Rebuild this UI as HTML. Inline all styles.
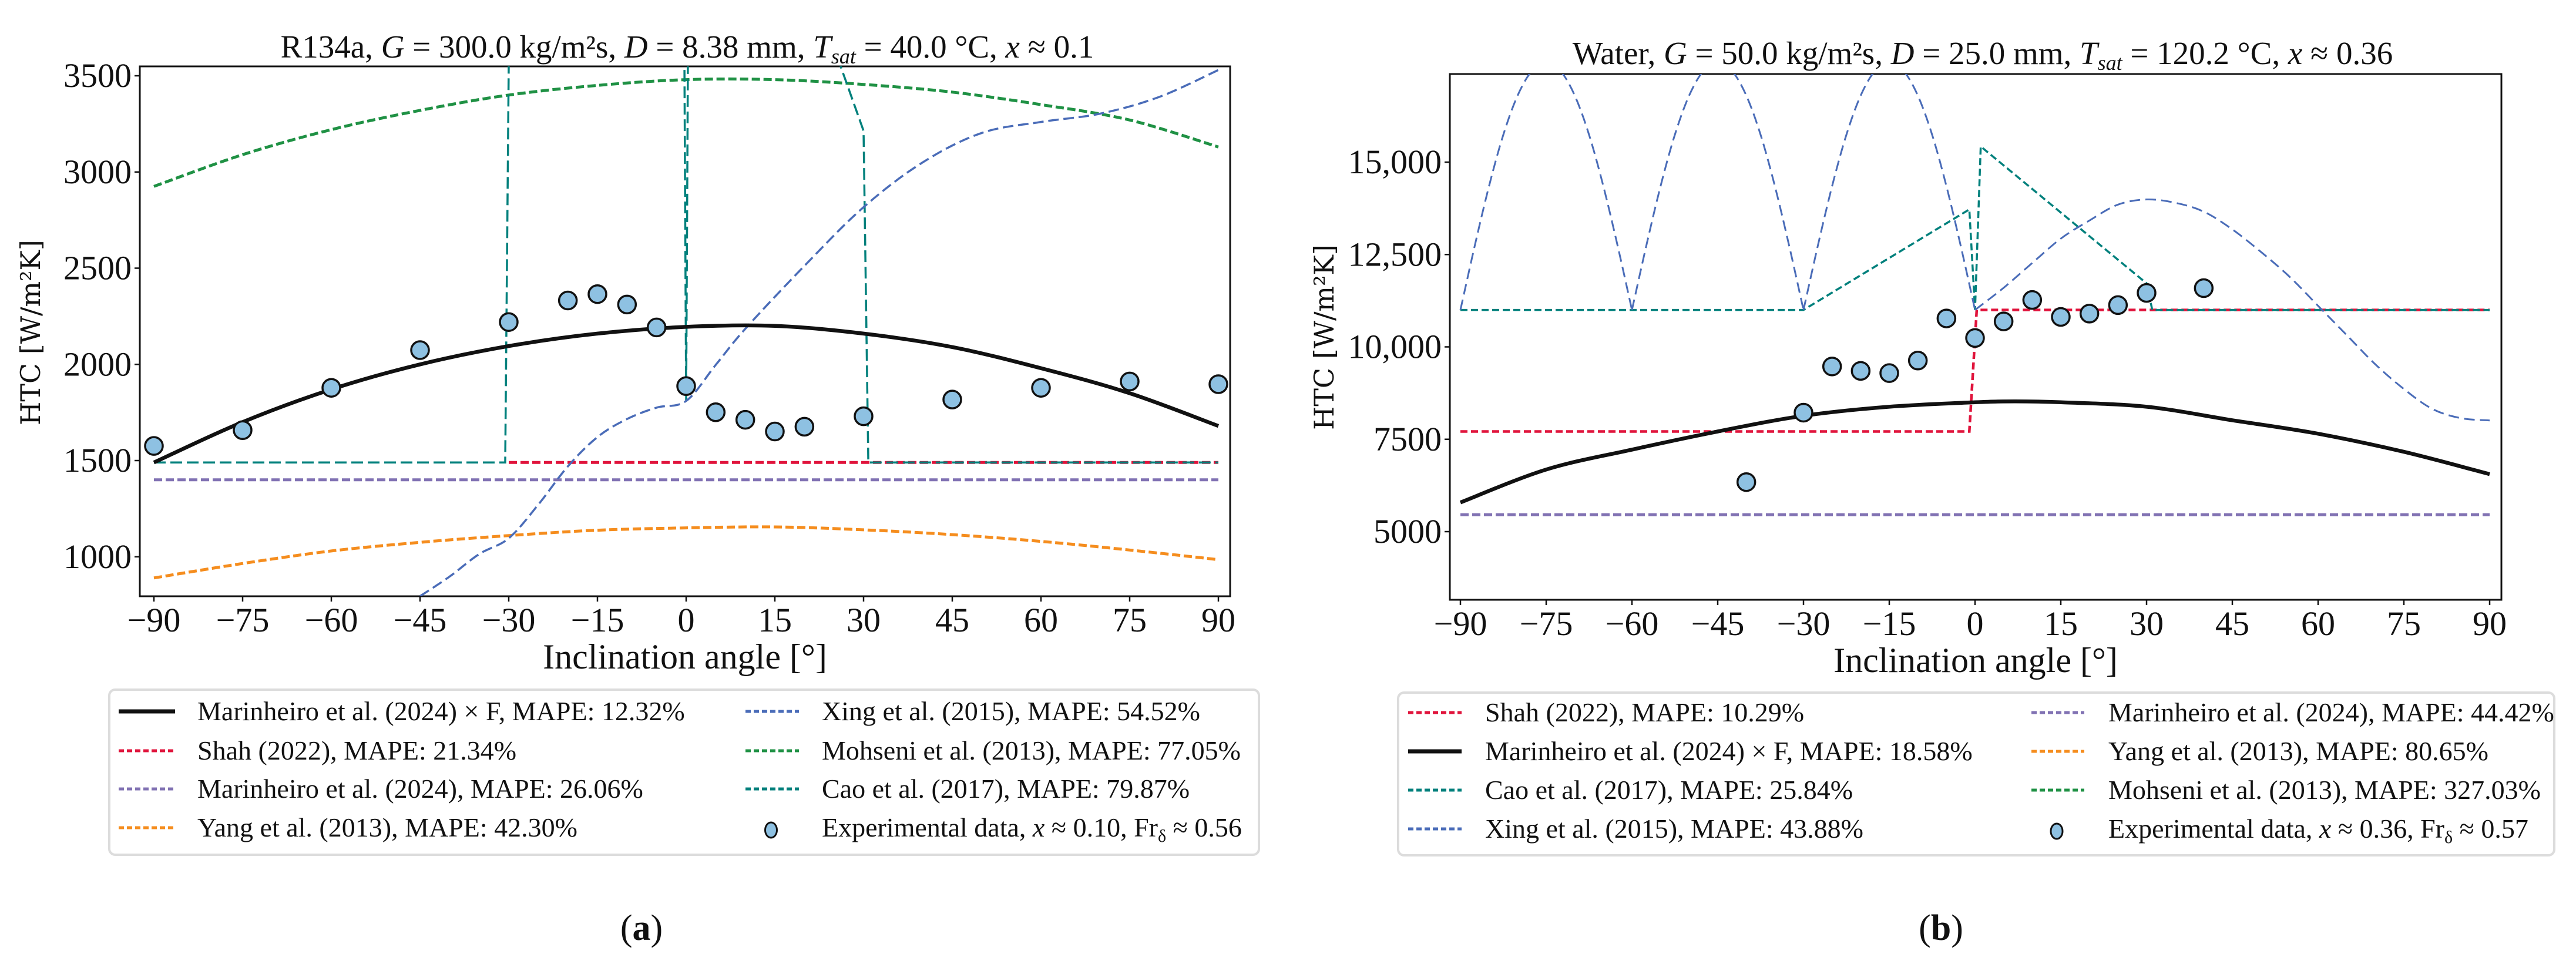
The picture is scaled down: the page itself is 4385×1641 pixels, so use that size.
<!DOCTYPE html>
<html><head><meta charset="utf-8">
<style>
html,body{margin:0;padding:0;background:#fff;}
svg{display:block;}
text,tspan{font-family:"Liberation Serif","Times New Roman",serif;fill:#111;}
</style></head>
<body>
<svg id="fig" xmlns="http://www.w3.org/2000/svg" width="4385" height="1641" viewBox="0 0 4385 1641">
<defs>
<clipPath id="clipA"><rect x="238" y="113" width="1856" height="902"/></clipPath>
<clipPath id="clipB"><rect x="2468" y="126" width="1790" height="895"/></clipPath>
</defs>
<g id="panelA"></g>
<g id="panelB"></g>
</svg>
<script>
// ---------- Panel A data (R134a) ----------
const xTicks = [-90,-75,-60,-45,-30,-15,0,15,30,45,60,75,90];
const aYTicks = [1000,1500,2000,2500,3000,3500];
const aYTickLabels = ["1000","1500","2000","2500","3000","3500"];
const aBlackAngles = [-90,-75,-60,-45,-30,-15,0,15,30,45,60,75,90];
const aBlackValues = [1490,1700,1870,2000,2095,2160,2195,2200,2160,2090,1980,1850,1680];
const aShahAngles = [-30,90];
const aShahValues = [1490,1490];
const aMarAngles = [-90,90];
const aMarValues = [1400,1400];
const aYangAngles = [-90,-75,-60,-45,-30,-15,0,15,30,45,60,75,90];
const aYangValues = [890,965,1030,1075,1110,1138,1150,1155,1140,1115,1080,1035,985];
const aXingAngles = [-45,-40,-35,-30,-25,-20,-15,-10,-5,0,5,10,20,30,40,50,60,70,80,90];
const aXingValues = [795,897,1014,1096,1271,1470,1622,1716,1775,1810,1997,2185,2512,2817,3050,3203,3260,3303,3390,3530];
const aMohAngles = [-90,-75,-60,-45,-30,-15,0,15,30,45,60,75,90];
const aMohValues = [2925,3090,3220,3320,3400,3450,3480,3480,3455,3415,3350,3270,3130];
const aCaoAngles = [-90,-30.6,-30,-15,-0.3,0,0.3,15,26,30,30.8,90];
const aCaoValues = [1490,1490,3560,6000,3600,1810,3600,6000,3560,3214,1490,1490];
const aExpAngles = [-90,-75,-60,-45,-30,-20,-15,-10,-5,0,5,10,15,20,30,45,60,75,90];
const aExpValues = [1576,1658,1878,2074,2220,2332,2365,2311,2192,1887,1751,1712,1651,1676,1730,1817,1878,1911,1897];

// ---------- Panel B data (Water) ----------
const bYTicks = [5000,7500,10000,12500,15000];
const bYTickLabels = ["5000","7500","10,000","12,500","15,000"];
const bBlackAngles = [-90,-75,-60,-45,-30,-15,0,7,15,30,45,60,75,90];
const bBlackValues = [5790,6680,7220,7710,8135,8380,8500,8525,8500,8380,8015,7650,7160,6555];
const bShahAngles = [-90,-1,0.3,90];
const bShahValues = [7710,7710,11000,11000];
const bMarAngles = [-90,90];
const bMarValues = [5460,5460];
const bXingArchAngles = [-90,-87.5,-85,-82.5,-80,-77.5,-75,-72.5,-70,-67.5,-65,-62.5,-60,-57.5,-55,-52.5,-50,-47.5,-45,-42.5,-40,-37.5,-35,-32.5,-30,-27.5,-25,-22.5,-20,-17.5,-15,-12.5,-10,-7.5,-5,-2.5,0];
const bXingArchValues = [11000,12730,14350,15740,16800,17470,17700,17470,16800,15740,14350,12730,11000,12730,14350,15740,16800,17470,17700,17470,16800,15740,14350,12730,11000,12730,14350,15740,16800,17470,17700,17470,16800,15740,14350,12730,11000];
const bXingTailAngles = [0,5,10,15,20,25,30,35,40,45,50,55,60,65,70,75,80,85,90];
const bXingTailValues = [11000,11600,12270,12930,13420,13850,13990,13900,13660,13180,12570,11900,11110,10320,9530,8860,8320,8070,8010];
const bCaoAngles = [-90,-30,-1,0,1,30,31,90];
const bCaoValues = [11000,11000,13720,11000,15425,11720,11000,11000];
const bExpAngles = [-40,-30,-25,-20,-15,-10,-5,0,5,10,15,20,25,30,40];
const bExpValues = [6340,8220,9470,9350,9290,9630,10770,10240,10690,11270,10810,10900,11130,11460,11590];

const NS = "http://www.w3.org/2000/svg";
const FONT = '"Liberation Serif","Times New Roman",serif';
function mk(tag, attrs, parent){
  const e = document.createElementNS(NS, tag);
  for (const k in attrs) e.setAttribute(k, attrs[k]);
  parent.appendChild(e);
  return e;
}
function axA_x(a){ return 262 + (a + 90) * (1812/180); }
function axA_y(v){ return 129 + (3500 - v) * 0.3275; }
function axB_x(a){ return 2486 + (a + 90) * (1752/180); }
function axB_y(v){ return 276 + (15000 - v) * 0.0629; }
function pathD(angles, values, fx, fy, smooth){
  const P = angles.map((a,i)=>[fx(a), fy(values[i])]);
  if (!smooth || P.length < 3){
    return P.map((p,i)=>(i?"L":"M")+p[0].toFixed(1)+","+p[1].toFixed(1)).join("");
  }
  let d = "M"+P[0][0].toFixed(1)+","+P[0][1].toFixed(1);
  for (let i = 0; i < P.length-1; i++){
    const p0 = P[Math.max(0,i-1)], p1 = P[i], p2 = P[i+1], p3 = P[Math.min(P.length-1,i+2)];
    const c1 = [p1[0]+(p2[0]-p0[0])/6, p1[1]+(p2[1]-p0[1])/6];
    const c2 = [p2[0]-(p3[0]-p1[0])/6, p2[1]-(p3[1]-p1[1])/6];
    d += "C"+c1[0].toFixed(1)+","+c1[1].toFixed(1)+" "+c2[0].toFixed(1)+","+c2[1].toFixed(1)+" "+p2[0].toFixed(1)+","+p2[1].toFixed(1);
  }
  return d;
}

function drawSeries(g, clip, angles, values, fx, fy, color, width, dash, name, smooth){
  const p = mk("path", {d: pathD(angles, values, fx, fy, smooth), fill:"none", stroke:color, "stroke-width":width, "clip-path":"url(#"+clip+")"}, g);
  if (dash) p.setAttribute("stroke-dasharray", dash);
  
  
}
function drawPoints(g, angles, values, fx, fy, name){
  for (let i = 0; i < angles.length; i++){
    const c = mk("ellipse", {cx: fx(angles[i]), cy: fy(values[i]), rx:15, ry:15, fill:"#8ec1e2", stroke:"#111", "stroke-width":3.5}, g);
    
    
  }
}

function drawAxes(g, L, T, R, B, fx, fy, yTicks, yLabels, titleHtml, titleX, titleY, ylabX, ylabY){
  const frame = mk("rect", {x:L, y:T, width:R-L, height:B-T, fill:"none", stroke:"#111", "stroke-width":3}, g);
  
  
  for (let i = 0; i < xTicks.length; i++){
    const x = fx(xTicks[i]);
    const t = mk("line", {x1:x, y1:B, x2:x, y2:B+9, stroke:"#111", "stroke-width":2.5}, g);
    
    
    const lb = mk("text", {x:x, y:B+60, "font-size":58, "text-anchor":"middle", "font-family":FONT}, g);
    lb.textContent = xTicks[i] < 0 ? "\u2212" + Math.abs(xTicks[i]) : String(xTicks[i]);
    
    
  }
  for (let i = 0; i < yTicks.length; i++){
    const y = fy(yTicks[i]);
    const t = mk("line", {x1:L-9, y1:y, x2:L, y2:y, stroke:"#111", "stroke-width":2.5}, g);
    
    
    const lb = mk("text", {x:L-14, y:y+19, "font-size":58, "text-anchor":"end", "font-family":FONT}, g);
    lb.textContent = yLabels[i];
    
    
  }
  const xl = mk("text", {x:(L+R)/2, y:B+123, "font-size":60, "text-anchor":"middle", "font-family":FONT}, g);
  xl.textContent = "Inclination angle [°]";
  
  
  const yl = mk("text", {x:ylabX, y:ylabY, "font-size":46, "text-anchor":"middle", transform:"rotate(-90 "+ylabX+" "+ylabY+")", "font-family":"'DejaVu Serif',serif", style:"font-family:'DejaVu Serif',serif"}, g);
  yl.textContent = "HTC [W/m²K]";
  
  
  const tt = mk("text", {x:titleX, y:titleY, "font-size":55, "text-anchor":"middle", "font-family":FONT}, g);
  tt.innerHTML = titleHtml;
  
  
}

function drawLegend(g, bx, by, bw, bh, c1h, c1t, c2h, c2t, rows, entries, capX, capText){
  const box = mk("rect", {x:bx, y:by, width:bw, height:bh, rx:10, fill:"#fff", stroke:"#dcdcdc", "stroke-width":4}, g);
  
  
  for (let i = 0; i < entries.length; i++){
    const e = entries[i];
    const col = i < 4 ? 0 : 1;
    const y = rows[i % 4];
    const hx = col ? c2h : c1h;
    const tx = col ? c2t : c1t;
    if (e.marker){
      const m = mk("ellipse", {cx:(hx[0]+hx[1])/2 - 2, cy:y+4, rx:10, ry:13, fill:"#8ec1e2", stroke:"#111", "stroke-width":3}, g);
      
      
    } else {
      const l = mk("line", {x1:hx[0], y1:y, x2:hx[1], y2:y, stroke:e.color, "stroke-width":e.dash ? 5 : 7}, g);
      if (e.dash) l.setAttribute("stroke-dasharray", "9 5");
      
      
    }
    const t = mk("text", {x:tx, y:y+15, "font-size":46, "font-family":FONT}, g);
    t.innerHTML = e.label;
    
    
  }
  const cap = mk("text", {x:capX, y:1600, "font-size":62, "text-anchor":"middle", "font-family":FONT}, g);
  cap.innerHTML = capText;
  
  
}

const C = {black:"#111111", red:"#e0143c", purple:"#8172b3", orange:"#f58d1e", blue:"#4a6cb8", green:"#1f9144", teal:"#00807c"};

// ----- Panel A -----
const gA = document.getElementById("panelA");
drawAxes(gA, 238, 113, 2094, 1015, axA_x, axA_y, aYTicks, aYTickLabels,
  'R134a, <tspan font-style="italic">G</tspan> = 300.0 kg/m²s, <tspan font-style="italic">D</tspan> = 8.38 mm, <tspan font-style="italic">T</tspan><tspan font-style="italic" font-size="36" dy="10">sat</tspan><tspan dy="-10"> = 40.0 °C, </tspan><tspan font-style="italic">x</tspan> ≈ 0.1',
  1170, 98, 68, 566);
drawSeries(gA, "clipA", aMohAngles, aMohValues, axA_x, axA_y, C.green, 5, "14 6", "mohseni-line", true);
drawSeries(gA, "clipA", aYangAngles, aYangValues, axA_x, axA_y, C.orange, 5, "14 6", "yang-line", true);
drawSeries(gA, "clipA", aMarAngles, aMarValues, axA_x, axA_y, C.purple, 5, "14 6", "marinheiro-line", false);
drawSeries(gA, "clipA", aShahAngles, aShahValues, axA_x, axA_y, C.red, 5, "14 6", "shah-line", false);
drawSeries(gA, "clipA", aCaoAngles, aCaoValues, axA_x, axA_y, C.teal, 3.5, "20 8", "cao-line", false);
drawSeries(gA, "clipA", aXingAngles, aXingValues, axA_x, axA_y, C.blue, 3.5, "18 8", "xing-line", true);
drawSeries(gA, "clipA", aBlackAngles, aBlackValues, axA_x, axA_y, C.black, 6.5, null, "marinheiro-f-line", true);
drawPoints(gA, aExpAngles, aExpValues, axA_x, axA_y, "experimental-point");
drawLegend(gA, 186, 1174, 1957, 281, [202,298], 336, [1269,1360], 1399, [1211,1278,1343,1409], [
  {color:C.black, dash:false, label:"Marinheiro et al. (2024) × F, MAPE: 12.32%"},
  {color:C.red, dash:true, label:"Shah (2022), MAPE: 21.34%"},
  {color:C.purple, dash:true, label:"Marinheiro et al. (2024), MAPE: 26.06%"},
  {color:C.orange, dash:true, label:"Yang et al. (2013), MAPE: 42.30%"},
  {color:C.blue, dash:true, label:"Xing et al. (2015), MAPE: 54.52%"},
  {color:C.green, dash:true, label:"Mohseni et al. (2013), MAPE: 77.05%"},
  {color:C.teal, dash:true, label:"Cao et al. (2017), MAPE: 79.87%"},
  {marker:true, label:'Experimental data, <tspan font-style="italic">x</tspan> ≈ 0.10, Fr<tspan font-size="30" dy="9">δ</tspan><tspan dy="-9"> ≈ 0.56</tspan>'}
], 1092, '(<tspan font-weight="bold">a</tspan>)');

// ----- Panel B -----
const gB = document.getElementById("panelB");
drawAxes(gB, 2468, 126, 4258, 1021, axB_x, axB_y, bYTicks, bYTickLabels,
  'Water, <tspan font-style="italic">G</tspan> = 50.0 kg/m²s, <tspan font-style="italic">D</tspan> = 25.0 mm, <tspan font-style="italic">T</tspan><tspan font-style="italic" font-size="36" dy="10">sat</tspan><tspan dy="-10"> = 120.2 °C, </tspan><tspan font-style="italic">x</tspan> ≈ 0.36',
  3375, 109, 2270, 574);
drawSeries(gB, "clipB", bMarAngles, bMarValues, axB_x, axB_y, C.purple, 5, "14 6", "marinheiro-line", false);
drawSeries(gB, "clipB", bShahAngles, bShahValues, axB_x, axB_y, C.red, 4.5, "12 6", "shah-line", false);
drawSeries(gB, "clipB", bCaoAngles, bCaoValues, axB_x, axB_y, C.teal, 3.5, "12 6", "cao-line", false);
drawSeries(gB, "clipB", bXingArchAngles.slice(0,13), bXingArchValues.slice(0,13), axB_x, axB_y, C.blue, 3, "18 9", "xing-line-arch", true);
drawSeries(gB, "clipB", bXingArchAngles.slice(12,25), bXingArchValues.slice(12,25), axB_x, axB_y, C.blue, 3, "18 9", "xing-line-arch", true);
drawSeries(gB, "clipB", bXingArchAngles.slice(24), bXingArchValues.slice(24), axB_x, axB_y, C.blue, 3, "18 9", "xing-line-arch", true);
drawSeries(gB, "clipB", bXingTailAngles, bXingTailValues, axB_x, axB_y, C.blue, 3, "18 9", "xing-line", true);
drawSeries(gB, "clipB", bBlackAngles, bBlackValues, axB_x, axB_y, C.black, 6.5, null, "marinheiro-f-line", true);
drawPoints(gB, bExpAngles, bExpValues, axB_x, axB_y, "experimental-point");
drawLegend(gB, 2380, 1179, 1968, 277, [2397,2488], 2528, [3458,3548], 3589, [1213,1279,1345,1411], [
  {color:C.red, dash:true, label:"Shah (2022), MAPE: 10.29%"},
  {color:C.black, dash:false, label:"Marinheiro et al. (2024) × F, MAPE: 18.58%"},
  {color:C.teal, dash:true, label:"Cao et al. (2017), MAPE: 25.84%"},
  {color:C.blue, dash:true, label:"Xing et al. (2015), MAPE: 43.88%"},
  {color:C.purple, dash:true, label:"Marinheiro et al. (2024), MAPE: 44.42%"},
  {color:C.orange, dash:true, label:"Yang et al. (2013), MAPE: 80.65%"},
  {color:C.green, dash:true, label:"Mohseni et al. (2013), MAPE: 327.03%"},
  {marker:true, label:'Experimental data, <tspan font-style="italic">x</tspan> ≈ 0.36, Fr<tspan font-size="30" dy="9">δ</tspan><tspan dy="-9"> ≈ 0.57</tspan>'}
], 3304, '(<tspan font-weight="bold">b</tspan>)');
</script>
</body></html>
